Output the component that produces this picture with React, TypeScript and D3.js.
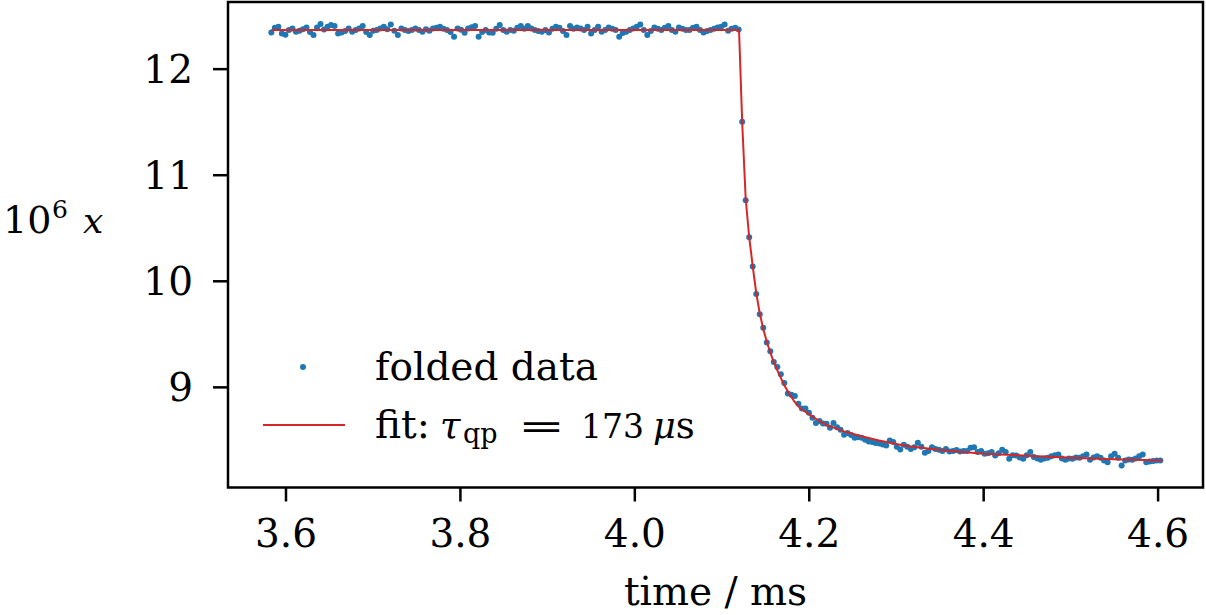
import React from 'react';
import * as d3 from 'd3';

// time of first sample and sampling step (ms)
const T0 = 3.5832;
const DT = 0.004029;

// plateau samples (before the drop)
const plateauValues = [
  12.346, 12.39, 12.40, 12.337, 12.324, 12.37, 12.384, 12.352, 12.362, 12.375,
  12.393, 12.35, 12.321, 12.393, 12.425, 12.374, 12.40, 12.415, 12.406, 12.337,
  12.346, 12.36, 12.384, 12.352, 12.37, 12.384, 12.406, 12.35, 12.321, 12.362,
  12.37, 12.384, 12.40, 12.375, 12.42, 12.362, 12.321, 12.384, 12.37, 12.359,
  12.37, 12.384, 12.368, 12.352, 12.375, 12.362, 12.384, 12.39, 12.40, 12.38,
  12.368, 12.35, 12.305, 12.384, 12.372, 12.343, 12.384, 12.395, 12.406, 12.305,
  12.35, 12.368, 12.346, 12.343, 12.38, 12.415, 12.37, 12.352, 12.37, 12.362,
  12.39, 12.406, 12.38, 12.406, 12.384, 12.37, 12.36, 12.352, 12.37, 12.346,
  12.38, 12.40, 12.39, 12.36, 12.321, 12.406, 12.38, 12.393, 12.384, 12.37,
  12.40, 12.337, 12.37, 12.40, 12.352, 12.37, 12.393, 12.38, 12.368, 12.305,
  12.34, 12.352, 12.37, 12.384, 12.40, 12.42, 12.37, 12.321, 12.36, 12.393,
  12.38, 12.368, 12.39, 12.406, 12.37, 12.352, 12.393, 12.38, 12.37, 12.368,
  12.39, 12.40, 12.37, 12.346, 12.36, 12.368, 12.38, 12.393, 12.40, 12.42,
  12.362, 12.38, 12.39, 12.374,
];

// samples after the drop
const decayValues = [
  11.503, 10.764, 10.415, 10.139, 9.880, 9.689, 9.563, 9.422, 9.340, 9.239,
  9.192, 9.123, 9.041, 8.941, 8.93, 8.918, 8.846, 8.80, 8.80, 8.76,
  8.714, 8.663, 8.682, 8.66, 8.657, 8.62, 8.663, 8.625, 8.60, 8.554,
  8.569, 8.55, 8.525, 8.53, 8.525, 8.507, 8.49, 8.484, 8.475, 8.47,
  8.462, 8.453, 8.50, 8.484, 8.44, 8.415, 8.46, 8.44, 8.42, 8.436,
  8.478, 8.44, 8.384, 8.40, 8.436, 8.42, 8.412, 8.40, 8.42, 8.396,
  8.40, 8.41, 8.396, 8.40, 8.40, 8.43, 8.436, 8.39, 8.40, 8.374,
  8.38, 8.39, 8.358, 8.38, 8.412, 8.39, 8.327, 8.36, 8.358, 8.34,
  8.327, 8.36, 8.39, 8.343, 8.33, 8.318, 8.33, 8.337, 8.35, 8.36,
  8.368, 8.33, 8.318, 8.33, 8.327, 8.34, 8.337, 8.35, 8.368, 8.318,
  8.34, 8.35, 8.337, 8.31, 8.295, 8.35, 8.374, 8.337, 8.264, 8.311,
  8.32, 8.318, 8.33, 8.35, 8.368, 8.295, 8.30, 8.305, 8.31, 8.311,
];

// fit curve samples
const fitTimes = [
  3.5832, 4.1195, 4.1231, 4.1271, 4.1311, 4.1352, 4.1392, 4.1432, 4.1473, 4.1513,
  4.1553, 4.1593, 4.1634, 4.1674, 4.1714, 4.1755, 4.1795, 4.1835, 4.19, 4.20,
  4.21, 4.22, 4.24, 4.26, 4.28, 4.31, 4.35, 4.40, 4.45, 4.50, 4.55, 4.605,
];
const fitValues = [
  12.368, 12.368, 11.50, 10.78, 10.42, 10.14, 9.89, 9.70, 9.55, 9.43,
  9.33, 9.24, 9.16, 9.09, 9.02, 8.96, 8.91, 8.86, 8.80, 8.745,
  8.69, 8.645, 8.585, 8.54, 8.50, 8.45, 8.41, 8.375, 8.355, 8.337, 8.322, 8.311,
];

const xTicks = [3.6, 3.8, 4.0, 4.2, 4.4, 4.6];
const xTickLabels = ['3.6', '3.8', '4.0', '4.2', '4.4', '4.6'];
const yTicks = [9, 10, 11, 12];
const yTickLabels = ['9', '10', '11', '12'];

const BLUE = '#1f77b4';
const RED = '#d62728';
const FONT = "'DejaVu Serif', serif";
const FS = 39;
const MATH_FS = 35;

export default function App() {
  const W = 1206;
  const H = 615;
  const left = 228, right = 1203, top = 2, bottom = 487.5;
  const x = d3.scaleLinear().domain([3.5335, 4.6515]).range([left, right]);
  const y = d3.scaleLinear().domain([8.056, 12.633]).range([bottom, top]);

  const values = plateauValues.concat(decayValues);
  const points = values.map((v, i) => ({ t: T0 + i * DT, v }));
  const fit = fitTimes.map((t, i) => [t, fitValues[i]] as [number, number]);
  const line = d3.line<[number, number]>().x((d) => x(d[0])).y((d) => y(d[1]));

  return (
    <svg width={W} height={H} style={{ position: 'absolute', left: 0, top: 0 }} fontFamily={FONT}>
      <rect x={0} y={0} width={W} height={H} fill="white" />
      {points.map((p, i) => (
        <circle key={i} cx={x(p.t)} cy={y(p.v)} r={3} fill={BLUE} />
      ))}
      <path d={line(fit) || ''} fill="none" stroke={RED} strokeWidth={2} />
      <rect x={left} y={top} width={right - left} height={bottom - top} fill="none" stroke="black" strokeWidth={2.5} />
      {xTicks.map((t, i) => (
        <g key={t}>
          <line x1={x(t)} x2={x(t)} y1={bottom} y2={bottom + 14} stroke="black" strokeWidth={2.5} />
          <text x={x(t)} y={547} textAnchor="middle" fontSize={FS}>{xTickLabels[i]}</text>
        </g>
      ))}
      {yTicks.map((t, i) => (
        <g key={t}>
          <line x1={left - 15} x2={left} y1={y(t)} y2={y(t)} stroke="black" strokeWidth={2.5} />
          <text x={left - 35} y={y(t) + 14} textAnchor="end" fontSize={FS}>{yTickLabels[i]}</text>
        </g>
      ))}
      <text x={(left + right) / 2} y={605} textAnchor="middle" fontSize={FS}>time / ms</text>
      <text y={232.7} fontSize={38}>
        <tspan x={3}>10</tspan>
        <tspan x={52} y={218} fontSize={25}>6</tspan>
        <tspan x={83} y={232.7} fontStyle="italic" fontSize={36}>x</tspan>
      </text>
      {/* legend */}
      <circle cx={303} cy={367} r={3} fill={BLUE} />
      <text x={375} y={380} fontSize={FS}>folded data</text>
      <line x1={263} x2={345} y1={425} y2={425} stroke={RED} strokeWidth={2} />
      <text y={437.5} fontSize={FS}>
        <tspan x={375}>fit:</tspan>
        <tspan x={440} fontStyle="italic" fontSize={37}>τ</tspan>
        <tspan x={463} y={443} fontSize={27}>qp</tspan>
        <tspan x={518} y={437.5} fontSize={MATH_FS} textLength={47} lengthAdjust="spacingAndGlyphs">=</tspan>
        <tspan x={581} fontSize={33}>173</tspan>
        <tspan x={653} fontStyle="italic" fontSize={MATH_FS}>μ</tspan>
        <tspan fontSize={37}>s</tspan>
      </text>
    </svg>
  );
}
